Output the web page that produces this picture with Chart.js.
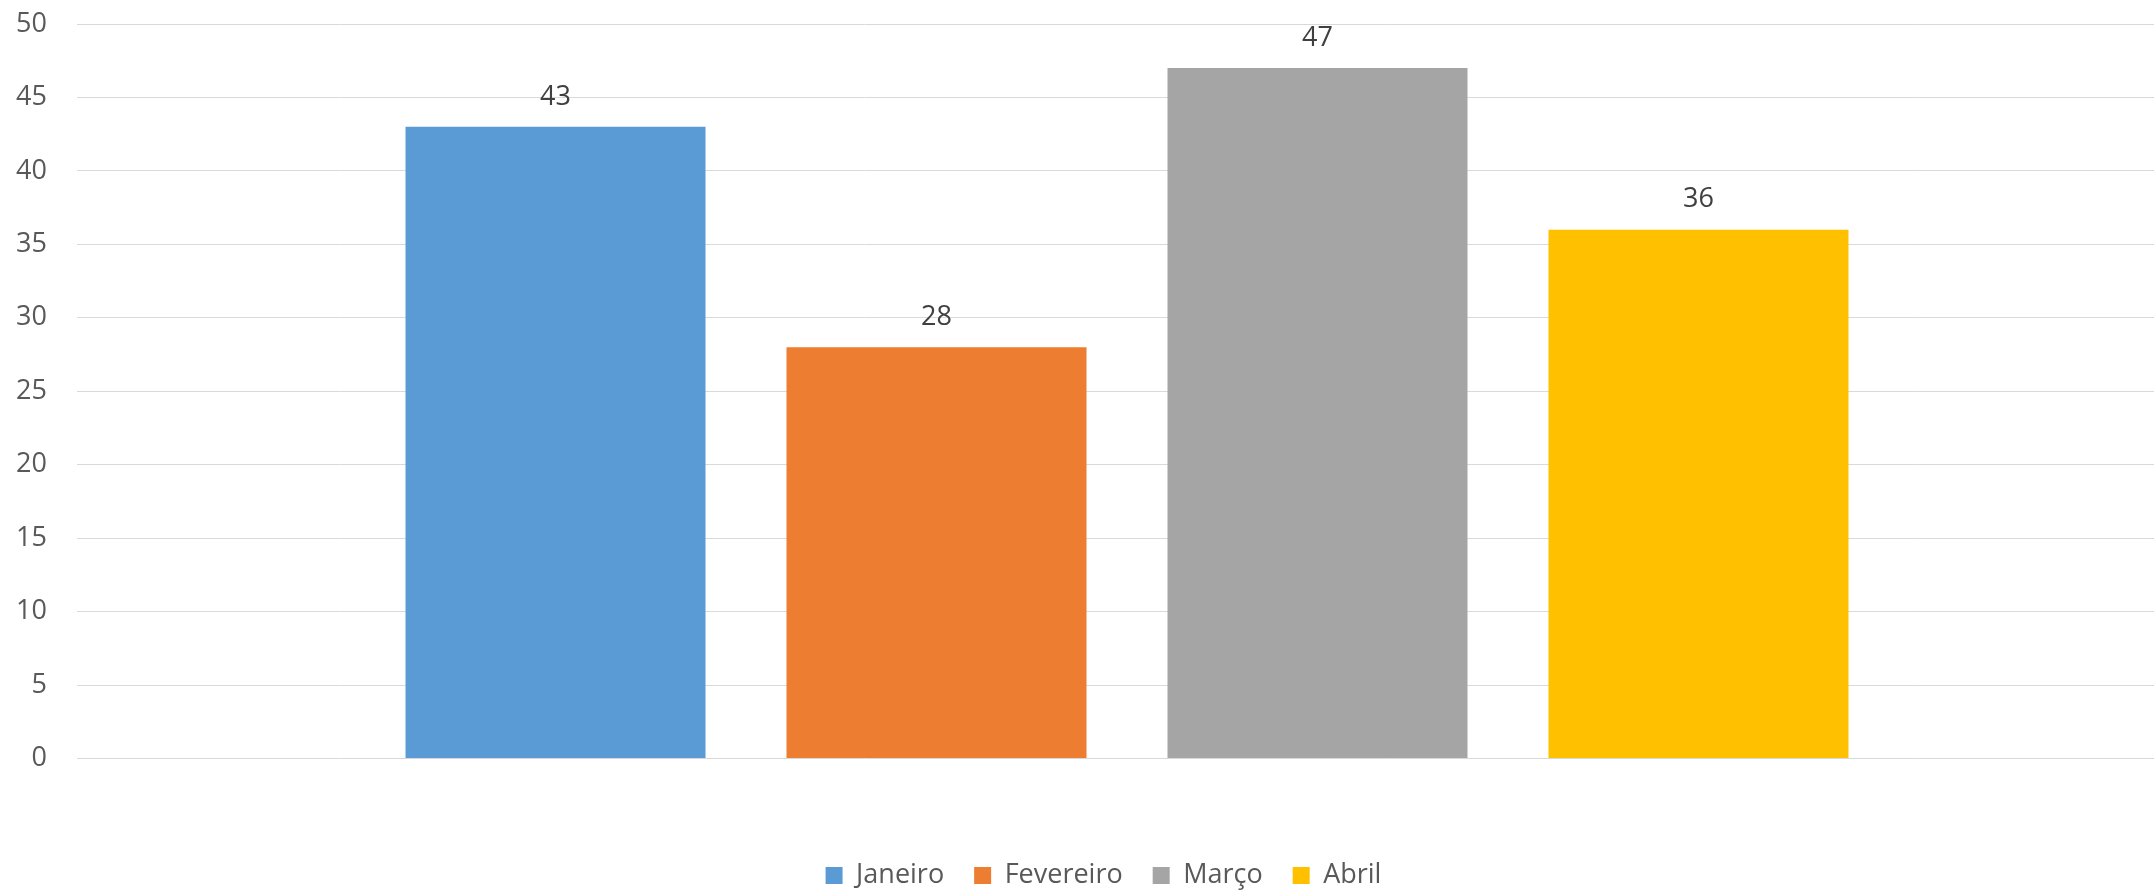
<!DOCTYPE html>
<html>
<head>
<meta charset="utf-8">
<script src="https://cdn.jsdelivr.net/npm/chart.js@4/dist/chart.umd.min.js"></script>
<style>
  html, body { margin: 0; padding: 0; background: #ffffff; overflow: hidden; }
  #wrap { position: relative; width: 2177px; height: 899px; }
</style>
</head>
<body>
<div id="wrap"><canvas id="c"></canvas></div>
<script>
// ---- data ----
const months = ['Janeiro', 'Fevereiro', 'Março', 'Abril'];
const values = [43, 28, 47, 36];
const colors = ['#5B9BD5', '#ED7D31', '#A5A5A5', '#FFC000'];
const yTicks = [0, 5, 10, 15, 20, 25, 30, 35, 40, 45, 50];

const FONT = '"Open Sans", "Noto Sans", sans-serif';

const datasets = months.map((m, i) => ({
  label: m,
  data: [values[i]],
  backgroundColor: colors[i],
  borderWidth: 0,
  categoryPercentage: 0.7257,
  barPercentage: 0.7874
}));

const valueLabels = {
  id: 'valueLabels',
  afterDatasetsDraw(chart) {
    const ctx = chart.ctx;
    ctx.save();
    ctx.font = '27px ' + FONT;
    ctx.fillStyle = '#404040';
    ctx.textAlign = 'center';
    ctx.textBaseline = 'middle';
    chart.data.datasets.forEach((ds, i) => {
      const meta = chart.getDatasetMeta(i);
      meta.data.forEach((el, j) => {
        ctx.fillText(String(ds.data[j]), el.x, el.y - 30);
      });
    });
    ctx.restore();
  }
};

const legendShift = {
  id: 'legendShift',
  afterLayout(chart) {
    if (chart.legend) {
      chart.legend.left += 15;
      chart.legend.right += 15;
    }
  }
};

new Chart(document.getElementById('c'), {
  type: 'bar',
  data: { labels: [''], datasets },
  plugins: [valueLabels, legendShift],
  options: {
    responsive: true,
    maintainAspectRatio: false,
    animation: false,
    layout: { padding: { top: 24, left: 0, right: 0, bottom: 0 } },
    plugins: {
      tooltip: { enabled: false },
      legend: {
        position: 'bottom',
        labels: {
          font: { family: FONT, size: 27 },
          color: '#595959',
          boxWidth: 17,
          boxHeight: 17,
          padding: 30
        }
      }
    },
    scales: {
      x: {
        display: true,
        grid: { display: false },
        border: { display: false },
        ticks: { display: false },
        afterFit(scale) { scale.height = 73.5; }
      },
      y: {
        min: 0,
        max: 50,
        afterBuildTicks(scale) { scale.ticks = yTicks.map(v => ({ value: v })); },
        afterFit(scale) {
          scale.width = 77;
          scale.paddingTop = 0;
          scale.paddingBottom = 0;
        },
        grid: { color: '#d9d9d9', lineWidth: 1, drawTicks: false },
        border: { display: false },
        ticks: {
          font: { family: FONT, size: 27 },
          color: '#595959',
          padding: 30
        }
      }
    }
  }
});
</script>
</body>
</html>
